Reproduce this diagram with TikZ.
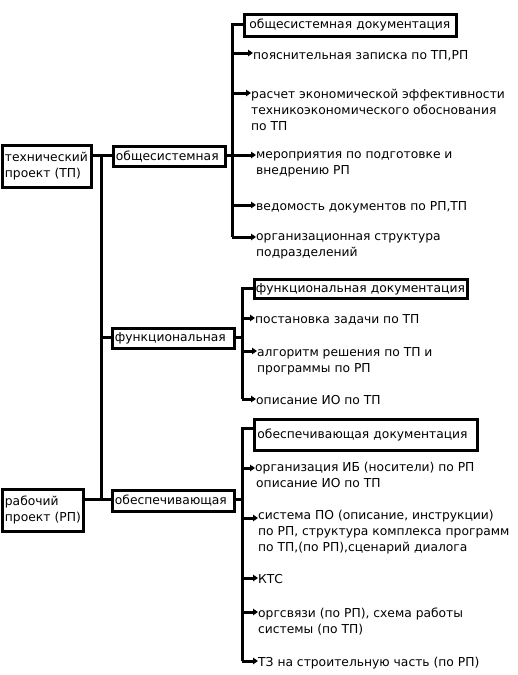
\documentclass[tikz,border=0pt]{standalone}
\usepackage{fontspec}
\setmainfont{DejaVu Sans}
\usetikzlibrary{arrows.meta}
\begin{document}
\begin{tikzpicture}[x=1pt,y=-1pt,
  every node/.style={font=\fontsize{12.3}{16}\selectfont},
  box/.style={draw,line width=2.8pt,inner xsep=2.5pt,inner ysep=2pt,anchor=north west,align=left},
  item/.style={anchor=north west,align=left,inner sep=0pt,yshift=-4pt},
  ln/.style={line width=3pt},
  arr/.style={line width=3pt,-{Triangle[length=5pt,width=6.5pt]}}]
\useasboundingbox (0,0) rectangle (517,675);
% left boxes
\node[box,text width=84pt,minimum height=42pt] (tp) at (1,144) {технический\\проект (ТП)};
\node[box,text width=76pt,minimum height=42pt] (rp) at (1,488) {рабочий\\проект (РП)};
\node[box,text width=107pt,minimum height=20pt] (os) at (112,145) {общесистемная};
\node[box,text width=117pt,minimum height=20pt] (fn) at (111,327) {функциональная};
\node[box,text width=117pt,minimum height=21pt] (ob) at (111,489) {обеспечивающая};
% trunk
\coordinate (t1) at (101,155);
\coordinate (t2) at (101,337);
\coordinate (t3) at (101,499);
\draw[ln] (tp.east |- t1) -- (os.west |- t1);
\draw[ln] (t1) -- (t3);
\draw[ln] (t2) -- (fn.west |- t2);
\draw[ln] (rp.east |- t3) -- (ob.west |- t3);
% group 1
\node[box,text width=202pt,minimum height=22pt,inner xsep=5pt] (h1) at (243,13) {общесистемная документация};
\coordinate (b1top) at (232,24);
\coordinate (b1c) at (232,155);
\coordinate (b1bot) at (232,237);
\draw[ln] (os.east |- b1c) -- (b1c);
\draw[ln] (h1.west |- b1top) -- (b1top) -- (b1bot);
\node[item] (i11) at (253,46) {пояснительная записка по ТП,РП};
\node[item] (i12) at (251,85) {расчет экономической эффективности\\техникоэкономического обоснования\\по ТП};
\node[item] (i13) at (256,147) {мероприятия по подготовке и\\внедрению РП};
\node[item] (i14) at (256,197) {ведомость документов по РП,ТП};
\node[item] (i15) at (256,229) {организационная структура\\подразделений};
\foreach \n/\y in {i11/53,i12/93,i13/155,i14/205,i15/237}{
  \coordinate (c\n) at (232,\y);
  \draw[arr] (c\n) -- (c\n -| \n.west);
}
% group 2
\node[box,text width=210pt,minimum height=19pt,inner xsep=1.5pt] (h2) at (253,278) {функциональная документация};
\coordinate (b2top) at (242,288);
\coordinate (b2c) at (242,337);
\coordinate (b2bot) at (242,399);
\draw[ln] (fn.east |- b2c) -- (b2c);
\draw[ln] (h2.west |- b2top) -- (b2top) -- (b2bot);
\node[item] (i21) at (255,310) {постановка задачи по ТП};
\node[item] (i22) at (257,343) {алгоритм решения по ТП и\\программы по РП};
\node[item] (i23) at (256,391) {описание ИО по ТП};
\foreach \n/\y in {i21/318,i22/351,i23/399}{
  \coordinate (c\n) at (242,\y);
  \draw[arr] (c\n) -- (c\n -| \n.west);
}
% group 3
\node[box,text width=217pt,minimum height=31pt,inner xsep=3pt] (h3) at (253,418) {обеспечивающая документация};
\coordinate (b3top) at (242,428);
\coordinate (b3c) at (242,499);
\coordinate (b3bot) at (242,661);
\draw[ln] (ob.east |- b3c) -- (b3c);
\draw[ln] (h3.west |- b3top) -- (b3top) -- (b3bot);
\node[item] (i31) at (255,458) {организация ИБ (носители) по РП\\\hspace*{1pt}описание ИО по ТП};
\node[item] (i32) at (258,506) {система ПО (описание, инструкции)\\по РП, структура комплекса программ\\по ТП,(по РП),сценарий диалога};
\node[item] (i33) at (258,570) {КТС};
\node[item] (i34) at (258,604) {оргсвязи (по РП), схема работы\\системы (по ТП)};
\node[item] (i35) at (258,653) {ТЗ на строительную часть (по РП)};
\foreach \n/\y in {i31/468,i32/518,i33/578,i34/612,i35/661}{
  \coordinate (c\n) at (242,\y);
  \draw[arr] (c\n) -- (c\n -| \n.west);
}
\end{tikzpicture}
\end{document}
